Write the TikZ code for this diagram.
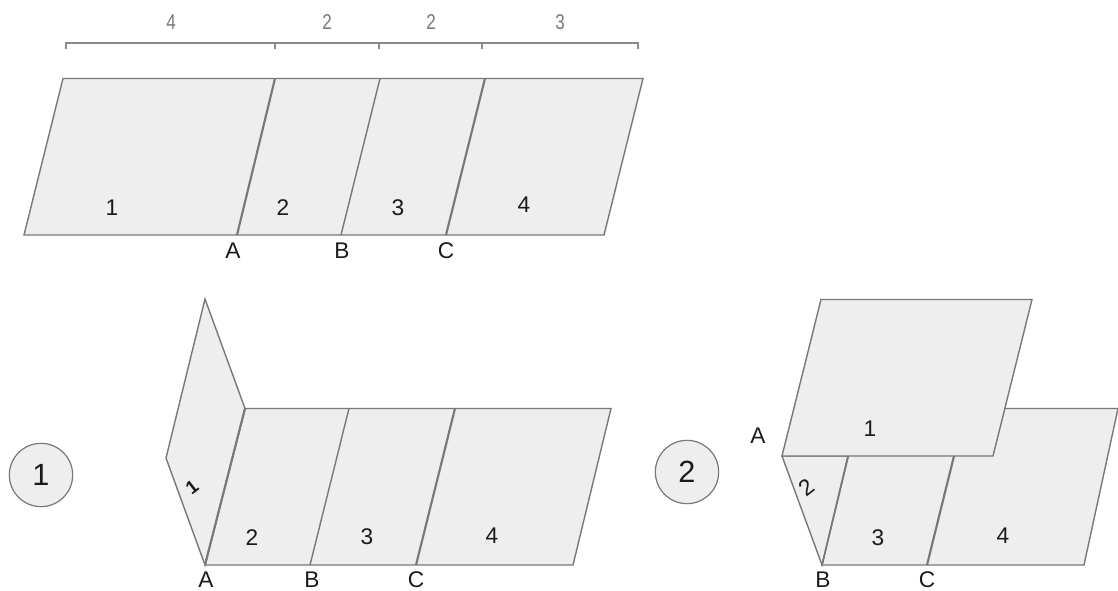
\documentclass[tikz,border=0pt]{standalone}
\usepackage{fontspec}
\setmainfont{Liberation Sans}
\definecolor{pf}{HTML}{EEEEEE}
\definecolor{pl}{HTML}{787878}
\definecolor{bl}{HTML}{8A8A8A}
\definecolor{tl}{HTML}{1A1A1A}
\tikzset{
 panel/.style={draw=pl,fill=pf,line width=1.05pt,line join=miter},
 fold/.style={draw=pl,line width=1.05pt},
 heavyfold/.style={draw=pl,line width=1.6pt},
 brace/.style={draw=bl,line width=1pt},
 lab/.style={font=\fontsize{17}{19}\selectfont,text=tl,inner sep=0pt},
 dim/.style={font=\fontsize{16}{18}\selectfont,text=pl,inner sep=0pt,xscale=0.8},
 badge/.style={circle,draw=pl,fill=pf,line width=0.9pt,minimum size=47.5pt,inner sep=0pt,font=\fontsize{23}{25}\selectfont,text=tl}
}
\begin{document}
\begin{tikzpicture}[x=0.75pt,y=-0.75pt]
\useasboundingbox (0,0) rectangle (1118,591);
% dimension bracket
\draw[brace] (66,49) -- (66,43) -- (638,43) -- (638,49);
\draw[brace] (275,43) -- (275,49) (379,43) -- (379,49) (482,43) -- (482,49);
\node[dim] (d1) at (171,22) {4};
\node[dim] (d2) at (327,22) {2};
\node[dim] (d3) at (431,22) {2};
\node[dim] (d4) at (560,22) {3};
% top strip
\draw[panel] (24,235) -- (63,78.5) -- (643,78.5) -- (604,235) -- cycle;
\draw[heavyfold] (237,235) -- (275,78.5);
\draw[fold] (341,235) -- (380,78.5);
\draw[heavyfold] (446,235) -- (485,78.5);
\node[lab] (t1) at (112,208) {1};
\node[lab] (t2) at (283,208) {2};
\node[lab] (t3) at (398,208) {3};
\node[lab] (t4) at (524,205) {4};
\node[lab] (tA) at (233,251) {A};
\node[lab] (tB) at (342,251) {B};
\node[lab] (tC) at (446,251) {C};
% step 1
\node[badge] (s1) at (41,475) {1};
\draw[panel] (205,565) -- (245,408.5) -- (611,408.5) -- (573,565) -- cycle;
\draw[panel] (205,565) -- (166,458) -- (205,299) -- (245,408.5) -- cycle;
\draw[heavyfold] (205,565) -- (245,408.5);
\draw[fold] (310,565) -- (349,408.5);
\draw[heavyfold] (416,565) -- (455,408.5);
\node[lab,rotate=38,font=\fontsize{14}{16}\bfseries\selectfont] (a1) at (192,487) {1};
\node[lab] (a2) at (252,538) {2};
\node[lab] (a3) at (367,537) {3};
\node[lab] (a4) at (492,536) {4};
\node[lab] (aA) at (206,580) {A};
\node[lab] (aB) at (312,580) {B};
\node[lab] (aC) at (416,580) {C};
% step 2
\node[badge] (s2) at (687,472) {2};
\draw[panel] (822,565) -- (860,408.5) -- (1118,408.5) -- (1084,565) -- cycle;
\draw[panel] (782,456) -- (822,565) -- (848,456) -- cycle;
\draw[fold] (822,565) -- (848,456);
\draw[heavyfold] (927,565) -- (954,456);
\draw[panel] (782,456) -- (821,299.5) -- (1032,299.5) -- (993,456) -- cycle;
\node[lab] (b1) at (870,429) {1};
\node[lab,rotate=38,font=\fontsize{17}{19}\selectfont] (b2) at (807,487) {2};
\node[lab] (b3) at (878,538) {3};
\node[lab] (b4) at (1003,536) {4};
\node[lab] (bA) at (758,436) {A};
\node[lab] (bB) at (823,580) {B};
\node[lab] (bC) at (927,580) {C};
\end{tikzpicture}
\end{document}
